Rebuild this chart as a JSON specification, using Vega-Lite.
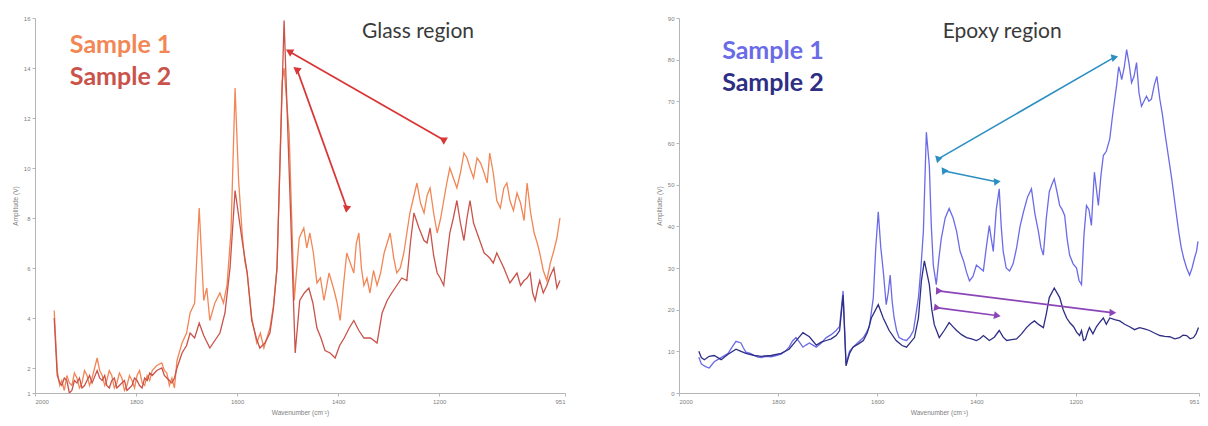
{
  "$schema": "https://vega.github.io/schema/vega-lite/v6.json",
  "padding": {"left": 12, "top": 15, "right": 2, "bottom": 2},
  "background": "white",
  "config": {
    "view": {"stroke": null},
    "axis": {"domainColor": "#b5b5b5", "tickColor": "#b5b5b5", "labelColor": "#808080", "labelFontSize": 6, "titleFontSize": 6.5, "titleColor": "#808080", "titleFontWeight": "normal", "grid": false, "tickSize": 3, "labelPadding": 2, "titlePadding": 5, "labelFont": "Liberation Sans", "titleFont": "Liberation Sans"}
  },
  "datasets": {
    "spectra": [
      {"panel":"glass","sample":"Sample 1","w":1962,"v":4.3},{"panel":"glass","sample":"Sample 1","w":1956,"v":1.9},{"panel":"glass","sample":"Sample 1","w":1951,"v":1.3},{"panel":"glass","sample":"Sample 1","w":1947,"v":1.5},{"panel":"glass","sample":"Sample 1","w":1942,"v":1.1},{"panel":"glass","sample":"Sample 1","w":1937,"v":1.7},{"panel":"glass","sample":"Sample 1","w":1932,"v":1.4},{"panel":"glass","sample":"Sample 1","w":1927,"v":1.3},{"panel":"glass","sample":"Sample 1","w":1922,"v":1.8},{"panel":"glass","sample":"Sample 1","w":1917,"v":1.6},{"panel":"glass","sample":"Sample 1","w":1912,"v":1.2},{"panel":"glass","sample":"Sample 1","w":1907,"v":1.4},{"panel":"glass","sample":"Sample 1","w":1902,"v":1.9},{"panel":"glass","sample":"Sample 1","w":1897,"v":1.7},{"panel":"glass","sample":"Sample 1","w":1892,"v":1.3},{"panel":"glass","sample":"Sample 1","w":1887,"v":1.6},{"panel":"glass","sample":"Sample 1","w":1877,"v":2.4},{"panel":"glass","sample":"Sample 1","w":1872,"v":1.9},{"panel":"glass","sample":"Sample 1","w":1867,"v":1.7},{"panel":"glass","sample":"Sample 1","w":1862,"v":1.3},{"panel":"glass","sample":"Sample 1","w":1858,"v":1.5},{"panel":"glass","sample":"Sample 1","w":1853,"v":1.9},{"panel":"glass","sample":"Sample 1","w":1848,"v":1.7},{"panel":"glass","sample":"Sample 1","w":1843,"v":1.2},{"panel":"glass","sample":"Sample 1","w":1838,"v":1.4},{"panel":"glass","sample":"Sample 1","w":1833,"v":1.8},{"panel":"glass","sample":"Sample 1","w":1828,"v":1.6},{"panel":"glass","sample":"Sample 1","w":1823,"v":1.1},{"panel":"glass","sample":"Sample 1","w":1818,"v":1.3},{"panel":"glass","sample":"Sample 1","w":1813,"v":1.7},{"panel":"glass","sample":"Sample 1","w":1808,"v":1.5},{"panel":"glass","sample":"Sample 1","w":1803,"v":1.2},{"panel":"glass","sample":"Sample 1","w":1798,"v":1.7},{"panel":"glass","sample":"Sample 1","w":1793,"v":1.9},{"panel":"glass","sample":"Sample 1","w":1788,"v":1.4},{"panel":"glass","sample":"Sample 1","w":1783,"v":1.3},{"panel":"glass","sample":"Sample 1","w":1778,"v":1.7},{"panel":"glass","sample":"Sample 1","w":1773,"v":1.5},{"panel":"glass","sample":"Sample 1","w":1768,"v":1.9},{"panel":"glass","sample":"Sample 1","w":1759,"v":2.1},{"panel":"glass","sample":"Sample 1","w":1749,"v":2.2},{"panel":"glass","sample":"Sample 1","w":1744,"v":1.9},{"panel":"glass","sample":"Sample 1","w":1739,"v":1.8},{"panel":"glass","sample":"Sample 1","w":1734,"v":1.3},{"panel":"glass","sample":"Sample 1","w":1729,"v":1.6},{"panel":"glass","sample":"Sample 1","w":1724,"v":1.2},{"panel":"glass","sample":"Sample 1","w":1719,"v":2.3},{"panel":"glass","sample":"Sample 1","w":1709,"v":3.0},{"panel":"glass","sample":"Sample 1","w":1700,"v":3.4},{"panel":"glass","sample":"Sample 1","w":1693,"v":4.2},{"panel":"glass","sample":"Sample 1","w":1684,"v":4.6},{"panel":"glass","sample":"Sample 1","w":1675,"v":8.4},{"panel":"glass","sample":"Sample 1","w":1666,"v":4.7},{"panel":"glass","sample":"Sample 1","w":1660,"v":5.2},{"panel":"glass","sample":"Sample 1","w":1654,"v":3.9},{"panel":"glass","sample":"Sample 1","w":1644,"v":4.6},{"panel":"glass","sample":"Sample 1","w":1634,"v":5.0},{"panel":"glass","sample":"Sample 1","w":1627,"v":4.6},{"panel":"glass","sample":"Sample 1","w":1620,"v":5.3},{"panel":"glass","sample":"Sample 1","w":1612,"v":7.5},{"panel":"glass","sample":"Sample 1","w":1604,"v":13.2},{"panel":"glass","sample":"Sample 1","w":1597,"v":9.5},{"panel":"glass","sample":"Sample 1","w":1590,"v":7.4},{"panel":"glass","sample":"Sample 1","w":1585,"v":6.3},{"panel":"glass","sample":"Sample 1","w":1580,"v":5.8},{"panel":"glass","sample":"Sample 1","w":1571,"v":4.0},{"panel":"glass","sample":"Sample 1","w":1561,"v":3.0},{"panel":"glass","sample":"Sample 1","w":1554,"v":3.4},{"panel":"glass","sample":"Sample 1","w":1547,"v":2.8},{"panel":"glass","sample":"Sample 1","w":1535,"v":3.6},{"panel":"glass","sample":"Sample 1","w":1528,"v":4.5},{"panel":"glass","sample":"Sample 1","w":1521,"v":6.0},{"panel":"glass","sample":"Sample 1","w":1511,"v":13.4},{"panel":"glass","sample":"Sample 1","w":1507,"v":14.0},{"panel":"glass","sample":"Sample 1","w":1497,"v":11.4},{"panel":"glass","sample":"Sample 1","w":1487,"v":4.7},{"panel":"glass","sample":"Sample 1","w":1477,"v":7.2},{"panel":"glass","sample":"Sample 1","w":1468,"v":7.6},{"panel":"glass","sample":"Sample 1","w":1462,"v":6.8},{"panel":"glass","sample":"Sample 1","w":1456,"v":7.4},{"panel":"glass","sample":"Sample 1","w":1449,"v":6.6},{"panel":"glass","sample":"Sample 1","w":1442,"v":5.4},{"panel":"glass","sample":"Sample 1","w":1435,"v":5.6},{"panel":"glass","sample":"Sample 1","w":1428,"v":4.7},{"panel":"glass","sample":"Sample 1","w":1418,"v":5.8},{"panel":"glass","sample":"Sample 1","w":1408,"v":5.1},{"panel":"glass","sample":"Sample 1","w":1402,"v":4.6},{"panel":"glass","sample":"Sample 1","w":1396,"v":3.9},{"panel":"glass","sample":"Sample 1","w":1390,"v":5.2},{"panel":"glass","sample":"Sample 1","w":1383,"v":6.6},{"panel":"glass","sample":"Sample 1","w":1376,"v":6.2},{"panel":"glass","sample":"Sample 1","w":1369,"v":5.8},{"panel":"glass","sample":"Sample 1","w":1364,"v":7.0},{"panel":"glass","sample":"Sample 1","w":1359,"v":7.4},{"panel":"glass","sample":"Sample 1","w":1354,"v":6.0},{"panel":"glass","sample":"Sample 1","w":1349,"v":5.3},{"panel":"glass","sample":"Sample 1","w":1343,"v":5.6},{"panel":"glass","sample":"Sample 1","w":1337,"v":5.0},{"panel":"glass","sample":"Sample 1","w":1330,"v":5.9},{"panel":"glass","sample":"Sample 1","w":1323,"v":5.3},{"panel":"glass","sample":"Sample 1","w":1316,"v":5.8},{"panel":"glass","sample":"Sample 1","w":1309,"v":6.6},{"panel":"glass","sample":"Sample 1","w":1303,"v":7.0},{"panel":"glass","sample":"Sample 1","w":1297,"v":7.4},{"panel":"glass","sample":"Sample 1","w":1290,"v":6.4},{"panel":"glass","sample":"Sample 1","w":1284,"v":5.8},{"panel":"glass","sample":"Sample 1","w":1277,"v":6.0},{"panel":"glass","sample":"Sample 1","w":1270,"v":6.6},{"panel":"glass","sample":"Sample 1","w":1264,"v":7.4},{"panel":"glass","sample":"Sample 1","w":1258,"v":8.2},{"panel":"glass","sample":"Sample 1","w":1251,"v":8.8},{"panel":"glass","sample":"Sample 1","w":1244,"v":9.4},{"panel":"glass","sample":"Sample 1","w":1237,"v":8.6},{"panel":"glass","sample":"Sample 1","w":1230,"v":8.2},{"panel":"glass","sample":"Sample 1","w":1224,"v":8.9},{"panel":"glass","sample":"Sample 1","w":1218,"v":9.2},{"panel":"glass","sample":"Sample 1","w":1211,"v":8.2},{"panel":"glass","sample":"Sample 1","w":1204,"v":7.4},{"panel":"glass","sample":"Sample 1","w":1197,"v":8.0},{"panel":"glass","sample":"Sample 1","w":1191,"v":8.7},{"panel":"glass","sample":"Sample 1","w":1185,"v":9.4},{"panel":"glass","sample":"Sample 1","w":1179,"v":10.0},{"panel":"glass","sample":"Sample 1","w":1172,"v":9.6},{"panel":"glass","sample":"Sample 1","w":1165,"v":9.2},{"panel":"glass","sample":"Sample 1","w":1158,"v":9.8},{"panel":"glass","sample":"Sample 1","w":1151,"v":10.6},{"panel":"glass","sample":"Sample 1","w":1145,"v":10.4},{"panel":"glass","sample":"Sample 1","w":1139,"v":10.0},{"panel":"glass","sample":"Sample 1","w":1132,"v":9.6},{"panel":"glass","sample":"Sample 1","w":1125,"v":10.4},{"panel":"glass","sample":"Sample 1","w":1118,"v":10.2},{"panel":"glass","sample":"Sample 1","w":1111,"v":9.8},{"panel":"glass","sample":"Sample 1","w":1105,"v":9.4},{"panel":"glass","sample":"Sample 1","w":1100,"v":10.6},{"panel":"glass","sample":"Sample 1","w":1093,"v":9.8},{"panel":"glass","sample":"Sample 1","w":1086,"v":8.7},{"panel":"glass","sample":"Sample 1","w":1079,"v":8.4},{"panel":"glass","sample":"Sample 1","w":1072,"v":9.2},{"panel":"glass","sample":"Sample 1","w":1066,"v":9.4},{"panel":"glass","sample":"Sample 1","w":1060,"v":8.7},{"panel":"glass","sample":"Sample 1","w":1053,"v":8.3},{"panel":"glass","sample":"Sample 1","w":1046,"v":9.0},{"panel":"glass","sample":"Sample 1","w":1039,"v":8.6},{"panel":"glass","sample":"Sample 1","w":1032,"v":7.9},{"panel":"glass","sample":"Sample 1","w":1026,"v":9.4},{"panel":"glass","sample":"Sample 1","w":1019,"v":8.2},{"panel":"glass","sample":"Sample 1","w":1012,"v":7.4},{"panel":"glass","sample":"Sample 1","w":1006,"v":7.0},{"panel":"glass","sample":"Sample 1","w":1001,"v":6.6},{"panel":"glass","sample":"Sample 1","w":994,"v":5.9},{"panel":"glass","sample":"Sample 1","w":987,"v":5.5},{"panel":"glass","sample":"Sample 1","w":980,"v":6.2},{"panel":"glass","sample":"Sample 1","w":973,"v":6.7},{"panel":"glass","sample":"Sample 1","w":967,"v":7.2},{"panel":"glass","sample":"Sample 1","w":961,"v":8.0},
      {"panel":"glass","sample":"Sample 2","w":1962,"v":4.0},{"panel":"glass","sample":"Sample 2","w":1956,"v":1.7},{"panel":"glass","sample":"Sample 2","w":1951,"v":1.4},{"panel":"glass","sample":"Sample 2","w":1947,"v":1.3},{"panel":"glass","sample":"Sample 2","w":1942,"v":1.6},{"panel":"glass","sample":"Sample 2","w":1937,"v":1.5},{"panel":"glass","sample":"Sample 2","w":1932,"v":1.0},{"panel":"glass","sample":"Sample 2","w":1927,"v":1.1},{"panel":"glass","sample":"Sample 2","w":1922,"v":1.5},{"panel":"glass","sample":"Sample 2","w":1917,"v":1.4},{"panel":"glass","sample":"Sample 2","w":1912,"v":1.6},{"panel":"glass","sample":"Sample 2","w":1907,"v":1.2},{"panel":"glass","sample":"Sample 2","w":1902,"v":1.3},{"panel":"glass","sample":"Sample 2","w":1897,"v":1.5},{"panel":"glass","sample":"Sample 2","w":1892,"v":1.7},{"panel":"glass","sample":"Sample 2","w":1887,"v":1.4},{"panel":"glass","sample":"Sample 2","w":1877,"v":1.9},{"panel":"glass","sample":"Sample 2","w":1872,"v":1.6},{"panel":"glass","sample":"Sample 2","w":1867,"v":1.5},{"panel":"glass","sample":"Sample 2","w":1862,"v":1.7},{"panel":"glass","sample":"Sample 2","w":1858,"v":1.3},{"panel":"glass","sample":"Sample 2","w":1853,"v":1.2},{"panel":"glass","sample":"Sample 2","w":1848,"v":1.5},{"panel":"glass","sample":"Sample 2","w":1843,"v":1.6},{"panel":"glass","sample":"Sample 2","w":1838,"v":1.2},{"panel":"glass","sample":"Sample 2","w":1833,"v":1.3},{"panel":"glass","sample":"Sample 2","w":1828,"v":1.4},{"panel":"glass","sample":"Sample 2","w":1823,"v":1.5},{"panel":"glass","sample":"Sample 2","w":1818,"v":1.1},{"panel":"glass","sample":"Sample 2","w":1813,"v":1.2},{"panel":"glass","sample":"Sample 2","w":1808,"v":1.3},{"panel":"glass","sample":"Sample 2","w":1803,"v":1.6},{"panel":"glass","sample":"Sample 2","w":1798,"v":1.5},{"panel":"glass","sample":"Sample 2","w":1793,"v":1.3},{"panel":"glass","sample":"Sample 2","w":1788,"v":1.2},{"panel":"glass","sample":"Sample 2","w":1783,"v":1.6},{"panel":"glass","sample":"Sample 2","w":1778,"v":1.5},{"panel":"glass","sample":"Sample 2","w":1773,"v":1.8},{"panel":"glass","sample":"Sample 2","w":1768,"v":1.7},{"panel":"glass","sample":"Sample 2","w":1759,"v":1.9},{"panel":"glass","sample":"Sample 2","w":1749,"v":2.0},{"panel":"glass","sample":"Sample 2","w":1744,"v":1.7},{"panel":"glass","sample":"Sample 2","w":1739,"v":1.6},{"panel":"glass","sample":"Sample 2","w":1734,"v":1.5},{"panel":"glass","sample":"Sample 2","w":1729,"v":1.4},{"panel":"glass","sample":"Sample 2","w":1724,"v":1.6},{"panel":"glass","sample":"Sample 2","w":1719,"v":2.0},{"panel":"glass","sample":"Sample 2","w":1709,"v":2.6},{"panel":"glass","sample":"Sample 2","w":1700,"v":2.9},{"panel":"glass","sample":"Sample 2","w":1693,"v":3.4},{"panel":"glass","sample":"Sample 2","w":1684,"v":3.2},{"panel":"glass","sample":"Sample 2","w":1675,"v":3.8},{"panel":"glass","sample":"Sample 2","w":1666,"v":3.3},{"panel":"glass","sample":"Sample 2","w":1654,"v":2.8},{"panel":"glass","sample":"Sample 2","w":1644,"v":3.1},{"panel":"glass","sample":"Sample 2","w":1634,"v":3.4},{"panel":"glass","sample":"Sample 2","w":1624,"v":4.2},{"panel":"glass","sample":"Sample 2","w":1614,"v":6.0},{"panel":"glass","sample":"Sample 2","w":1604,"v":9.1},{"panel":"glass","sample":"Sample 2","w":1590,"v":7.1},{"panel":"glass","sample":"Sample 2","w":1580,"v":5.8},{"panel":"glass","sample":"Sample 2","w":1571,"v":3.9},{"panel":"glass","sample":"Sample 2","w":1562,"v":3.2},{"panel":"glass","sample":"Sample 2","w":1555,"v":2.8},{"panel":"glass","sample":"Sample 2","w":1545,"v":3.0},{"panel":"glass","sample":"Sample 2","w":1535,"v":3.4},{"panel":"glass","sample":"Sample 2","w":1528,"v":4.4},{"panel":"glass","sample":"Sample 2","w":1521,"v":6.0},{"panel":"glass","sample":"Sample 2","w":1507,"v":15.9},{"panel":"glass","sample":"Sample 2","w":1495,"v":8.7},{"panel":"glass","sample":"Sample 2","w":1485,"v":2.6},{"panel":"glass","sample":"Sample 2","w":1476,"v":4.7},{"panel":"glass","sample":"Sample 2","w":1467,"v":5.0},{"panel":"glass","sample":"Sample 2","w":1458,"v":5.2},{"panel":"glass","sample":"Sample 2","w":1450,"v":4.6},{"panel":"glass","sample":"Sample 2","w":1442,"v":3.6},{"panel":"glass","sample":"Sample 2","w":1434,"v":3.2},{"panel":"glass","sample":"Sample 2","w":1426,"v":2.7},{"panel":"glass","sample":"Sample 2","w":1416,"v":2.6},{"panel":"glass","sample":"Sample 2","w":1406,"v":2.4},{"panel":"glass","sample":"Sample 2","w":1397,"v":2.9},{"panel":"glass","sample":"Sample 2","w":1388,"v":3.2},{"panel":"glass","sample":"Sample 2","w":1378,"v":3.6},{"panel":"glass","sample":"Sample 2","w":1369,"v":3.9},{"panel":"glass","sample":"Sample 2","w":1359,"v":3.5},{"panel":"glass","sample":"Sample 2","w":1349,"v":3.2},{"panel":"glass","sample":"Sample 2","w":1336,"v":3.2},{"panel":"glass","sample":"Sample 2","w":1323,"v":3.0},{"panel":"glass","sample":"Sample 2","w":1313,"v":4.2},{"panel":"glass","sample":"Sample 2","w":1303,"v":4.7},{"panel":"glass","sample":"Sample 2","w":1294,"v":5.0},{"panel":"glass","sample":"Sample 2","w":1284,"v":5.3},{"panel":"glass","sample":"Sample 2","w":1274,"v":5.6},{"panel":"glass","sample":"Sample 2","w":1264,"v":5.5},{"panel":"glass","sample":"Sample 2","w":1257,"v":7.0},{"panel":"glass","sample":"Sample 2","w":1250,"v":8.2},{"panel":"glass","sample":"Sample 2","w":1240,"v":7.6},{"panel":"glass","sample":"Sample 2","w":1230,"v":7.1},{"panel":"glass","sample":"Sample 2","w":1224,"v":7.0},{"panel":"glass","sample":"Sample 2","w":1218,"v":7.6},{"panel":"glass","sample":"Sample 2","w":1211,"v":6.5},{"panel":"glass","sample":"Sample 2","w":1204,"v":5.8},{"panel":"glass","sample":"Sample 2","w":1198,"v":5.6},{"panel":"glass","sample":"Sample 2","w":1191,"v":5.3},{"panel":"glass","sample":"Sample 2","w":1185,"v":6.4},{"panel":"glass","sample":"Sample 2","w":1179,"v":7.4},{"panel":"glass","sample":"Sample 2","w":1172,"v":8.0},{"panel":"glass","sample":"Sample 2","w":1165,"v":8.7},{"panel":"glass","sample":"Sample 2","w":1158,"v":7.8},{"panel":"glass","sample":"Sample 2","w":1151,"v":7.1},{"panel":"glass","sample":"Sample 2","w":1145,"v":8.0},{"panel":"glass","sample":"Sample 2","w":1139,"v":8.7},{"panel":"glass","sample":"Sample 2","w":1132,"v":7.8},{"panel":"glass","sample":"Sample 2","w":1125,"v":7.4},{"panel":"glass","sample":"Sample 2","w":1118,"v":7.0},{"panel":"glass","sample":"Sample 2","w":1111,"v":6.6},{"panel":"glass","sample":"Sample 2","w":1105,"v":6.5},{"panel":"glass","sample":"Sample 2","w":1100,"v":6.4},{"panel":"glass","sample":"Sample 2","w":1093,"v":6.2},{"panel":"glass","sample":"Sample 2","w":1086,"v":6.6},{"panel":"glass","sample":"Sample 2","w":1079,"v":6.3},{"panel":"glass","sample":"Sample 2","w":1072,"v":6.0},{"panel":"glass","sample":"Sample 2","w":1066,"v":5.7},{"panel":"glass","sample":"Sample 2","w":1060,"v":5.4},{"panel":"glass","sample":"Sample 2","w":1053,"v":5.6},{"panel":"glass","sample":"Sample 2","w":1046,"v":5.8},{"panel":"glass","sample":"Sample 2","w":1039,"v":5.3},{"panel":"glass","sample":"Sample 2","w":1032,"v":5.5},{"panel":"glass","sample":"Sample 2","w":1026,"v":5.6},{"panel":"glass","sample":"Sample 2","w":1020,"v":5.8},{"panel":"glass","sample":"Sample 2","w":1015,"v":5.0},{"panel":"glass","sample":"Sample 2","w":1010,"v":4.7},{"panel":"glass","sample":"Sample 2","w":1005,"v":5.2},{"panel":"glass","sample":"Sample 2","w":1001,"v":5.5},{"panel":"glass","sample":"Sample 2","w":994,"v":5.0},{"panel":"glass","sample":"Sample 2","w":987,"v":5.3},{"panel":"glass","sample":"Sample 2","w":980,"v":5.7},{"panel":"glass","sample":"Sample 2","w":973,"v":6.0},{"panel":"glass","sample":"Sample 2","w":967,"v":5.2},{"panel":"glass","sample":"Sample 2","w":961,"v":5.5},
      {"panel":"epoxy","sample":"Sample 1","w":1960,"v":8.6},{"panel":"epoxy","sample":"Sample 1","w":1955,"v":7.0},{"panel":"epoxy","sample":"Sample 1","w":1949,"v":6.5},{"panel":"epoxy","sample":"Sample 1","w":1944,"v":6.2},{"panel":"epoxy","sample":"Sample 1","w":1939,"v":6.0},{"panel":"epoxy","sample":"Sample 1","w":1929,"v":7.5},{"panel":"epoxy","sample":"Sample 1","w":1922,"v":8.0},{"panel":"epoxy","sample":"Sample 1","w":1915,"v":8.5},{"panel":"epoxy","sample":"Sample 1","w":1901,"v":9.5},{"panel":"epoxy","sample":"Sample 1","w":1893,"v":11.0},{"panel":"epoxy","sample":"Sample 1","w":1885,"v":12.4},{"panel":"epoxy","sample":"Sample 1","w":1875,"v":12.0},{"panel":"epoxy","sample":"Sample 1","w":1870,"v":10.8},{"panel":"epoxy","sample":"Sample 1","w":1865,"v":9.8},{"panel":"epoxy","sample":"Sample 1","w":1856,"v":9.5},{"panel":"epoxy","sample":"Sample 1","w":1848,"v":9.0},{"panel":"epoxy","sample":"Sample 1","w":1841,"v":8.6},{"panel":"epoxy","sample":"Sample 1","w":1834,"v":8.5},{"panel":"epoxy","sample":"Sample 1","w":1824,"v":8.8},{"panel":"epoxy","sample":"Sample 1","w":1814,"v":8.7},{"panel":"epoxy","sample":"Sample 1","w":1804,"v":9.0},{"panel":"epoxy","sample":"Sample 1","w":1794,"v":9.3},{"panel":"epoxy","sample":"Sample 1","w":1786,"v":10.0},{"panel":"epoxy","sample":"Sample 1","w":1778,"v":11.0},{"panel":"epoxy","sample":"Sample 1","w":1771,"v":12.5},{"panel":"epoxy","sample":"Sample 1","w":1764,"v":13.3},{"panel":"epoxy","sample":"Sample 1","w":1757,"v":12.2},{"panel":"epoxy","sample":"Sample 1","w":1750,"v":11.0},{"panel":"epoxy","sample":"Sample 1","w":1744,"v":11.5},{"panel":"epoxy","sample":"Sample 1","w":1737,"v":12.0},{"panel":"epoxy","sample":"Sample 1","w":1730,"v":11.5},{"panel":"epoxy","sample":"Sample 1","w":1723,"v":11.0},{"panel":"epoxy","sample":"Sample 1","w":1713,"v":12.0},{"panel":"epoxy","sample":"Sample 1","w":1703,"v":13.3},{"panel":"epoxy","sample":"Sample 1","w":1693,"v":14.0},{"panel":"epoxy","sample":"Sample 1","w":1683,"v":15.0},{"panel":"epoxy","sample":"Sample 1","w":1676,"v":16.0},{"panel":"epoxy","sample":"Sample 1","w":1669,"v":24.5},{"panel":"epoxy","sample":"Sample 1","w":1663,"v":7.0},{"panel":"epoxy","sample":"Sample 1","w":1656,"v":10.0},{"panel":"epoxy","sample":"Sample 1","w":1649,"v":11.0},{"panel":"epoxy","sample":"Sample 1","w":1640,"v":12.0},{"panel":"epoxy","sample":"Sample 1","w":1628,"v":13.3},{"panel":"epoxy","sample":"Sample 1","w":1622,"v":14.5},{"panel":"epoxy","sample":"Sample 1","w":1616,"v":15.9},{"panel":"epoxy","sample":"Sample 1","w":1608,"v":22.9},{"panel":"epoxy","sample":"Sample 1","w":1603,"v":35.0},{"panel":"epoxy","sample":"Sample 1","w":1598,"v":43.5},{"panel":"epoxy","sample":"Sample 1","w":1593,"v":35.0},{"panel":"epoxy","sample":"Sample 1","w":1588,"v":29.3},{"panel":"epoxy","sample":"Sample 1","w":1582,"v":21.2},{"panel":"epoxy","sample":"Sample 1","w":1578,"v":24.0},{"panel":"epoxy","sample":"Sample 1","w":1574,"v":28.3},{"panel":"epoxy","sample":"Sample 1","w":1570,"v":22.0},{"panel":"epoxy","sample":"Sample 1","w":1566,"v":18.0},{"panel":"epoxy","sample":"Sample 1","w":1561,"v":15.0},{"panel":"epoxy","sample":"Sample 1","w":1556,"v":13.3},{"panel":"epoxy","sample":"Sample 1","w":1548,"v":12.8},{"panel":"epoxy","sample":"Sample 1","w":1541,"v":12.6},{"panel":"epoxy","sample":"Sample 1","w":1534,"v":13.5},{"panel":"epoxy","sample":"Sample 1","w":1527,"v":15.0},{"panel":"epoxy","sample":"Sample 1","w":1517,"v":22.9},{"panel":"epoxy","sample":"Sample 1","w":1512,"v":30.0},{"panel":"epoxy","sample":"Sample 1","w":1507,"v":38.8},{"panel":"epoxy","sample":"Sample 1","w":1501,"v":62.6},{"panel":"epoxy","sample":"Sample 1","w":1495,"v":54.5},{"panel":"epoxy","sample":"Sample 1","w":1491,"v":40.0},{"panel":"epoxy","sample":"Sample 1","w":1487,"v":30.7},{"panel":"epoxy","sample":"Sample 1","w":1481,"v":26.0},{"panel":"epoxy","sample":"Sample 1","w":1476,"v":32.0},{"panel":"epoxy","sample":"Sample 1","w":1471,"v":37.0},{"panel":"epoxy","sample":"Sample 1","w":1463,"v":42.0},{"panel":"epoxy","sample":"Sample 1","w":1455,"v":44.3},{"panel":"epoxy","sample":"Sample 1","w":1447,"v":42.0},{"panel":"epoxy","sample":"Sample 1","w":1440,"v":38.8},{"panel":"epoxy","sample":"Sample 1","w":1433,"v":34.0},{"panel":"epoxy","sample":"Sample 1","w":1426,"v":31.7},{"panel":"epoxy","sample":"Sample 1","w":1420,"v":29.0},{"panel":"epoxy","sample":"Sample 1","w":1414,"v":26.9},{"panel":"epoxy","sample":"Sample 1","w":1407,"v":28.0},{"panel":"epoxy","sample":"Sample 1","w":1400,"v":30.7},{"panel":"epoxy","sample":"Sample 1","w":1393,"v":30.0},{"panel":"epoxy","sample":"Sample 1","w":1386,"v":29.3},{"panel":"epoxy","sample":"Sample 1","w":1380,"v":35.0},{"panel":"epoxy","sample":"Sample 1","w":1374,"v":40.2},{"panel":"epoxy","sample":"Sample 1","w":1370,"v":37.0},{"panel":"epoxy","sample":"Sample 1","w":1366,"v":34.0},{"panel":"epoxy","sample":"Sample 1","w":1360,"v":44.0},{"panel":"epoxy","sample":"Sample 1","w":1354,"v":49.0},{"panel":"epoxy","sample":"Sample 1","w":1350,"v":40.0},{"panel":"epoxy","sample":"Sample 1","w":1346,"v":34.0},{"panel":"epoxy","sample":"Sample 1","w":1340,"v":30.0},{"panel":"epoxy","sample":"Sample 1","w":1333,"v":29.3},{"panel":"epoxy","sample":"Sample 1","w":1326,"v":31.0},{"panel":"epoxy","sample":"Sample 1","w":1319,"v":34.8},{"panel":"epoxy","sample":"Sample 1","w":1312,"v":40.0},{"panel":"epoxy","sample":"Sample 1","w":1305,"v":43.5},{"panel":"epoxy","sample":"Sample 1","w":1297,"v":47.0},{"panel":"epoxy","sample":"Sample 1","w":1289,"v":49.0},{"panel":"epoxy","sample":"Sample 1","w":1282,"v":43.0},{"panel":"epoxy","sample":"Sample 1","w":1275,"v":38.8},{"panel":"epoxy","sample":"Sample 1","w":1270,"v":35.0},{"panel":"epoxy","sample":"Sample 1","w":1265,"v":33.1},{"panel":"epoxy","sample":"Sample 1","w":1259,"v":42.0},{"panel":"epoxy","sample":"Sample 1","w":1253,"v":48.3},{"panel":"epoxy","sample":"Sample 1","w":1248,"v":50.0},{"panel":"epoxy","sample":"Sample 1","w":1243,"v":51.4},{"panel":"epoxy","sample":"Sample 1","w":1237,"v":48.0},{"panel":"epoxy","sample":"Sample 1","w":1232,"v":45.0},{"panel":"epoxy","sample":"Sample 1","w":1227,"v":44.0},{"panel":"epoxy","sample":"Sample 1","w":1222,"v":42.6},{"panel":"epoxy","sample":"Sample 1","w":1217,"v":37.0},{"panel":"epoxy","sample":"Sample 1","w":1212,"v":33.1},{"panel":"epoxy","sample":"Sample 1","w":1205,"v":31.0},{"panel":"epoxy","sample":"Sample 1","w":1198,"v":30.0},{"panel":"epoxy","sample":"Sample 1","w":1193,"v":27.0},{"panel":"epoxy","sample":"Sample 1","w":1188,"v":26.0},{"panel":"epoxy","sample":"Sample 1","w":1183,"v":38.0},{"panel":"epoxy","sample":"Sample 1","w":1178,"v":45.0},{"panel":"epoxy","sample":"Sample 1","w":1173,"v":44.0},{"panel":"epoxy","sample":"Sample 1","w":1168,"v":40.2},{"panel":"epoxy","sample":"Sample 1","w":1165,"v":47.0},{"panel":"epoxy","sample":"Sample 1","w":1162,"v":53.0},{"panel":"epoxy","sample":"Sample 1","w":1158,"v":49.0},{"panel":"epoxy","sample":"Sample 1","w":1154,"v":45.0},{"panel":"epoxy","sample":"Sample 1","w":1149,"v":52.0},{"panel":"epoxy","sample":"Sample 1","w":1144,"v":57.0},{"panel":"epoxy","sample":"Sample 1","w":1138,"v":58.0},{"panel":"epoxy","sample":"Sample 1","w":1131,"v":61.0},{"panel":"epoxy","sample":"Sample 1","w":1126,"v":66.0},{"panel":"epoxy","sample":"Sample 1","w":1121,"v":70.5},{"panel":"epoxy","sample":"Sample 1","w":1117,"v":74.0},{"panel":"epoxy","sample":"Sample 1","w":1113,"v":78.3},{"panel":"epoxy","sample":"Sample 1","w":1110,"v":77.0},{"panel":"epoxy","sample":"Sample 1","w":1107,"v":75.2},{"panel":"epoxy","sample":"Sample 1","w":1102,"v":78.0},{"panel":"epoxy","sample":"Sample 1","w":1097,"v":82.4},{"panel":"epoxy","sample":"Sample 1","w":1092,"v":79.0},{"panel":"epoxy","sample":"Sample 1","w":1087,"v":74.5},{"panel":"epoxy","sample":"Sample 1","w":1082,"v":76.0},{"panel":"epoxy","sample":"Sample 1","w":1077,"v":79.3},{"panel":"epoxy","sample":"Sample 1","w":1072,"v":72.0},{"panel":"epoxy","sample":"Sample 1","w":1067,"v":68.8},{"panel":"epoxy","sample":"Sample 1","w":1062,"v":70.0},{"panel":"epoxy","sample":"Sample 1","w":1057,"v":71.2},{"panel":"epoxy","sample":"Sample 1","w":1052,"v":70.0},{"panel":"epoxy","sample":"Sample 1","w":1047,"v":70.5},{"panel":"epoxy","sample":"Sample 1","w":1041,"v":74.0},{"panel":"epoxy","sample":"Sample 1","w":1036,"v":76.0},{"panel":"epoxy","sample":"Sample 1","w":1030,"v":70.5},{"panel":"epoxy","sample":"Sample 1","w":1025,"v":67.0},{"panel":"epoxy","sample":"Sample 1","w":1020,"v":62.6},{"panel":"epoxy","sample":"Sample 1","w":1013,"v":57.0},{"panel":"epoxy","sample":"Sample 1","w":1006,"v":51.4},{"panel":"epoxy","sample":"Sample 1","w":999,"v":45.0},{"panel":"epoxy","sample":"Sample 1","w":992,"v":38.8},{"panel":"epoxy","sample":"Sample 1","w":987,"v":35.0},{"panel":"epoxy","sample":"Sample 1","w":982,"v":32.4},{"panel":"epoxy","sample":"Sample 1","w":976,"v":30.0},{"panel":"epoxy","sample":"Sample 1","w":970,"v":28.3},{"panel":"epoxy","sample":"Sample 1","w":965,"v":30.0},{"panel":"epoxy","sample":"Sample 1","w":960,"v":32.4},{"panel":"epoxy","sample":"Sample 1","w":956,"v":34.0},{"panel":"epoxy","sample":"Sample 1","w":953,"v":36.4},
      {"panel":"epoxy","sample":"Sample 2","w":1960,"v":10.0},{"panel":"epoxy","sample":"Sample 2","w":1955,"v":8.5},{"panel":"epoxy","sample":"Sample 2","w":1949,"v":8.0},{"panel":"epoxy","sample":"Sample 2","w":1939,"v":8.8},{"panel":"epoxy","sample":"Sample 2","w":1929,"v":9.0},{"panel":"epoxy","sample":"Sample 2","w":1915,"v":8.0},{"panel":"epoxy","sample":"Sample 2","w":1901,"v":9.3},{"panel":"epoxy","sample":"Sample 2","w":1885,"v":10.5},{"panel":"epoxy","sample":"Sample 2","w":1875,"v":10.0},{"panel":"epoxy","sample":"Sample 2","w":1865,"v":9.5},{"panel":"epoxy","sample":"Sample 2","w":1848,"v":9.0},{"panel":"epoxy","sample":"Sample 2","w":1834,"v":8.8},{"panel":"epoxy","sample":"Sample 2","w":1814,"v":9.0},{"panel":"epoxy","sample":"Sample 2","w":1794,"v":9.5},{"panel":"epoxy","sample":"Sample 2","w":1778,"v":10.5},{"panel":"epoxy","sample":"Sample 2","w":1764,"v":12.5},{"panel":"epoxy","sample":"Sample 2","w":1750,"v":14.5},{"panel":"epoxy","sample":"Sample 2","w":1737,"v":13.5},{"panel":"epoxy","sample":"Sample 2","w":1723,"v":11.5},{"panel":"epoxy","sample":"Sample 2","w":1713,"v":12.2},{"panel":"epoxy","sample":"Sample 2","w":1703,"v":12.6},{"panel":"epoxy","sample":"Sample 2","w":1693,"v":13.0},{"panel":"epoxy","sample":"Sample 2","w":1683,"v":13.8},{"panel":"epoxy","sample":"Sample 2","w":1676,"v":15.0},{"panel":"epoxy","sample":"Sample 2","w":1669,"v":23.5},{"panel":"epoxy","sample":"Sample 2","w":1663,"v":6.5},{"panel":"epoxy","sample":"Sample 2","w":1656,"v":9.5},{"panel":"epoxy","sample":"Sample 2","w":1649,"v":11.0},{"panel":"epoxy","sample":"Sample 2","w":1638,"v":11.8},{"panel":"epoxy","sample":"Sample 2","w":1628,"v":12.6},{"panel":"epoxy","sample":"Sample 2","w":1620,"v":14.5},{"panel":"epoxy","sample":"Sample 2","w":1612,"v":18.0},{"panel":"epoxy","sample":"Sample 2","w":1598,"v":21.2},{"panel":"epoxy","sample":"Sample 2","w":1588,"v":18.0},{"panel":"epoxy","sample":"Sample 2","w":1576,"v":15.0},{"panel":"epoxy","sample":"Sample 2","w":1562,"v":12.6},{"panel":"epoxy","sample":"Sample 2","w":1550,"v":11.4},{"panel":"epoxy","sample":"Sample 2","w":1541,"v":11.0},{"panel":"epoxy","sample":"Sample 2","w":1525,"v":13.3},{"panel":"epoxy","sample":"Sample 2","w":1517,"v":18.0},{"panel":"epoxy","sample":"Sample 2","w":1511,"v":26.9},{"panel":"epoxy","sample":"Sample 2","w":1505,"v":31.7},{"panel":"epoxy","sample":"Sample 2","w":1495,"v":26.0},{"panel":"epoxy","sample":"Sample 2","w":1490,"v":20.0},{"panel":"epoxy","sample":"Sample 2","w":1485,"v":16.4},{"panel":"epoxy","sample":"Sample 2","w":1475,"v":13.3},{"panel":"epoxy","sample":"Sample 2","w":1465,"v":15.0},{"panel":"epoxy","sample":"Sample 2","w":1455,"v":16.9},{"panel":"epoxy","sample":"Sample 2","w":1448,"v":16.0},{"panel":"epoxy","sample":"Sample 2","w":1440,"v":15.0},{"panel":"epoxy","sample":"Sample 2","w":1430,"v":14.0},{"panel":"epoxy","sample":"Sample 2","w":1420,"v":13.3},{"panel":"epoxy","sample":"Sample 2","w":1410,"v":13.0},{"panel":"epoxy","sample":"Sample 2","w":1400,"v":12.6},{"panel":"epoxy","sample":"Sample 2","w":1393,"v":13.0},{"panel":"epoxy","sample":"Sample 2","w":1386,"v":13.8},{"panel":"epoxy","sample":"Sample 2","w":1380,"v":13.2},{"panel":"epoxy","sample":"Sample 2","w":1374,"v":12.6},{"panel":"epoxy","sample":"Sample 2","w":1364,"v":13.4},{"panel":"epoxy","sample":"Sample 2","w":1354,"v":15.0},{"panel":"epoxy","sample":"Sample 2","w":1346,"v":13.4},{"panel":"epoxy","sample":"Sample 2","w":1339,"v":12.6},{"panel":"epoxy","sample":"Sample 2","w":1329,"v":12.8},{"panel":"epoxy","sample":"Sample 2","w":1319,"v":13.0},{"panel":"epoxy","sample":"Sample 2","w":1309,"v":14.2},{"panel":"epoxy","sample":"Sample 2","w":1299,"v":15.7},{"panel":"epoxy","sample":"Sample 2","w":1291,"v":16.6},{"panel":"epoxy","sample":"Sample 2","w":1283,"v":17.3},{"panel":"epoxy","sample":"Sample 2","w":1274,"v":16.4},{"panel":"epoxy","sample":"Sample 2","w":1265,"v":15.7},{"panel":"epoxy","sample":"Sample 2","w":1259,"v":19.0},{"panel":"epoxy","sample":"Sample 2","w":1253,"v":22.9},{"panel":"epoxy","sample":"Sample 2","w":1243,"v":25.2},{"panel":"epoxy","sample":"Sample 2","w":1232,"v":22.9},{"panel":"epoxy","sample":"Sample 2","w":1225,"v":20.0},{"panel":"epoxy","sample":"Sample 2","w":1218,"v":18.0},{"panel":"epoxy","sample":"Sample 2","w":1211,"v":16.8},{"panel":"epoxy","sample":"Sample 2","w":1204,"v":15.9},{"panel":"epoxy","sample":"Sample 2","w":1198,"v":14.6},{"panel":"epoxy","sample":"Sample 2","w":1192,"v":13.8},{"panel":"epoxy","sample":"Sample 2","w":1188,"v":15.0},{"panel":"epoxy","sample":"Sample 2","w":1184,"v":12.6},{"panel":"epoxy","sample":"Sample 2","w":1180,"v":12.9},{"panel":"epoxy","sample":"Sample 2","w":1176,"v":14.5},{"panel":"epoxy","sample":"Sample 2","w":1172,"v":15.7},{"panel":"epoxy","sample":"Sample 2","w":1165,"v":14.2},{"panel":"epoxy","sample":"Sample 2","w":1158,"v":15.9},{"panel":"epoxy","sample":"Sample 2","w":1151,"v":17.0},{"panel":"epoxy","sample":"Sample 2","w":1144,"v":18.0},{"panel":"epoxy","sample":"Sample 2","w":1138,"v":16.5},{"panel":"epoxy","sample":"Sample 2","w":1131,"v":18.0},{"panel":"epoxy","sample":"Sample 2","w":1121,"v":17.6},{"panel":"epoxy","sample":"Sample 2","w":1111,"v":17.3},{"panel":"epoxy","sample":"Sample 2","w":1101,"v":16.5},{"panel":"epoxy","sample":"Sample 2","w":1091,"v":15.9},{"panel":"epoxy","sample":"Sample 2","w":1081,"v":15.2},{"panel":"epoxy","sample":"Sample 2","w":1071,"v":15.7},{"panel":"epoxy","sample":"Sample 2","w":1061,"v":15.4},{"panel":"epoxy","sample":"Sample 2","w":1051,"v":15.0},{"panel":"epoxy","sample":"Sample 2","w":1041,"v":14.4},{"panel":"epoxy","sample":"Sample 2","w":1030,"v":13.8},{"panel":"epoxy","sample":"Sample 2","w":1020,"v":13.6},{"panel":"epoxy","sample":"Sample 2","w":1010,"v":13.5},{"panel":"epoxy","sample":"Sample 2","w":1000,"v":13.0},{"panel":"epoxy","sample":"Sample 2","w":990,"v":13.3},{"panel":"epoxy","sample":"Sample 2","w":983,"v":13.9},{"panel":"epoxy","sample":"Sample 2","w":976,"v":13.8},{"panel":"epoxy","sample":"Sample 2","w":969,"v":13.0},{"panel":"epoxy","sample":"Sample 2","w":962,"v":13.3},{"panel":"epoxy","sample":"Sample 2","w":957,"v":14.2},{"panel":"epoxy","sample":"Sample 2","w":952,"v":15.7}
    ],
    "labels": [
      {"panel":"glass","kind":"sample","sample":"Sample 1","text":"Sample 1","w":1931,"v":14.6},
      {"panel":"glass","kind":"sample","sample":"Sample 2","text":"Sample 2","w":1931,"v":13.32},
      {"panel":"glass","kind":"title","text":"Glass region","w":1242,"v":15.2},
      {"panel":"epoxy","kind":"sample","sample":"Sample 1","text":"Sample 1","w":1913,"v":80.2},
      {"panel":"epoxy","kind":"sample","sample":"Sample 2","text":"Sample 2","w":1913,"v":72.4},
      {"panel":"epoxy","kind":"title","text":"Epoxy region","w":1348,"v":85.2}
    ],
    "arrows": [
      {"panel":"glass","id":"a1","w1":1495,"v1":14.64,"w2":1191,"v2":11.12},
      {"panel":"glass","id":"a2","w1":1481,"v1":13.92,"w2":1383,"v2":8.4},
      {"panel":"epoxy","id":"b1","w1":1477,"v1":56.2,"w2":1123,"v2":80.5},
      {"panel":"epoxy","id":"b2","w1":1465,"v1":53.3,"w2":1360,"v2":50.7},
      {"panel":"epoxy","id":"b3","w1":1477,"v1":24.5,"w2":1127,"v2":19.3},
      {"panel":"epoxy","id":"b4","w1":1481,"v1":20.5,"w2":1360,"v2":18.6}
    ]
  },
  "resolve": {"scale": {"color": "independent"}},
  "spacing": 90,
  "hconcat": [
    {
      "width": 530,
      "height": 375,
      "layer": [
        {
          "data": {"name": "spectra"},
          "transform": [{"filter": "datum.panel === 'glass'"}],
          "mark": {"type": "line", "strokeWidth": 1.3, "clip": true},
          "encoding": {
            "x": {"field": "w", "type": "quantitative", "scale": {"domain": [951, 2000], "reverse": true, "nice": false, "zero": false}, "axis": {"values": [2000, 1800, 1600, 1400, 1200, 951], "format": "d"}, "title": "Wavenumber (cm⁻¹)"},
            "y": {"field": "v", "type": "quantitative", "scale": {"domain": [1, 16], "nice": false, "zero": false}, "axis": {"values": [1, 2, 4, 6, 8, 10, 12, 14, 16], "format": "d"}, "title": "Amplitude (V)"},
            "color": {"field": "sample", "type": "nominal", "scale": {"domain": ["Sample 1", "Sample 2"], "range": ["#f28655", "#c9534a"]}, "legend": null},
            "order": {"field": "w", "sort": "descending"}
          }
        },
        {
          "data": {"name": "arrows"},
          "transform": [{"filter": "datum.panel === 'glass'"}],
          "mark": {"type": "rule", "color": "#d93636", "strokeWidth": 1.8},
          "encoding": {
            "x": {"field": "w1", "type": "quantitative", "title": "Wavenumber (cm⁻¹)"},
            "y": {"field": "v1", "type": "quantitative", "title": "Amplitude (V)"},
            "x2": {"field": "w2"},
            "y2": {"field": "v2"}
          }
        },
        {
          "data": {"name": "arrows"},
          "transform": [{"filter": "datum.panel === 'glass'"}],
          "mark": {"type": "point", "shape": "triangle", "filled": true, "color": "#d93636", "size": 70, "opacity": 1},
          "encoding": {
            "x": {"field": "w1", "type": "quantitative", "title": "Wavenumber (cm⁻¹)"},
            "y": {"field": "v1", "type": "quantitative", "title": "Amplitude (V)"},
            "angle": {"field": "id", "type": "nominal", "scale": {"domain": ["a1", "a2"], "range": [299.7, 340.1]}, "legend": null}
          }
        },
        {
          "data": {"name": "arrows"},
          "transform": [{"filter": "datum.panel === 'glass'"}],
          "mark": {"type": "point", "shape": "triangle", "filled": true, "color": "#d93636", "size": 70, "opacity": 1},
          "encoding": {
            "x": {"field": "w2", "type": "quantitative", "title": "Wavenumber (cm⁻¹)"},
            "y": {"field": "v2", "type": "quantitative", "title": "Amplitude (V)"},
            "angle": {"field": "id", "type": "nominal", "scale": {"domain": ["a1", "a2"], "range": [119.7, 160.1]}, "legend": null}
          }
        },
        {
          "data": {"name": "labels"},
          "transform": [{"filter": "datum.panel === 'glass' && datum.kind === 'sample'"}],
          "mark": {"type": "text", "font": "Lato", "fontWeight": "bold", "fontSize": 25, "align": "left", "baseline": "alphabetic"},
          "encoding": {
            "x": {"field": "w", "type": "quantitative", "title": "Wavenumber (cm⁻¹)"},
            "y": {"field": "v", "type": "quantitative", "title": "Amplitude (V)"},
            "text": {"field": "text"},
            "color": {"field": "sample", "type": "nominal", "legend": null}
          }
        },
        {
          "data": {"name": "labels"},
          "transform": [{"filter": "datum.panel === 'glass' && datum.kind === 'title'"}],
          "mark": {"type": "text", "font": "Lato", "fontSize": 21, "align": "center", "baseline": "alphabetic", "color": "#3a3a3a"},
          "encoding": {
            "x": {"field": "w", "type": "quantitative", "title": "Wavenumber (cm⁻¹)"},
            "y": {"field": "v", "type": "quantitative", "title": "Amplitude (V)"},
            "text": {"field": "text"}
          }
        }
      ]
    },
    {
      "width": 520,
      "height": 375,
      "layer": [
        {
          "data": {"name": "spectra"},
          "transform": [{"filter": "datum.panel === 'epoxy'"}],
          "mark": {"type": "line", "strokeWidth": 1.3, "clip": true},
          "encoding": {
            "x": {"field": "w", "type": "quantitative", "scale": {"domain": [951, 2000], "reverse": true, "nice": false, "zero": false}, "axis": {"values": [2000, 1800, 1600, 1400, 1200, 951], "format": "d"}, "title": "Wavenumber (cm⁻¹)"},
            "y": {"field": "v", "type": "quantitative", "scale": {"domain": [0, 90], "nice": false}, "axis": {"values": [0, 10, 20, 30, 40, 50, 60, 70, 80, 90], "format": "d"}, "title": "Amplitude (V)"},
            "color": {"field": "sample", "type": "nominal", "scale": {"domain": ["Sample 1", "Sample 2"], "range": ["#6b6be8", "#2e2e85"]}, "legend": null},
            "order": {"field": "w", "sort": "descending"}
          }
        },
        {
          "data": {"name": "arrows"},
          "transform": [{"filter": "datum.panel === 'epoxy'"}],
          "mark": {"type": "rule", "strokeWidth": 1.6},
          "encoding": {
            "x": {"field": "w1", "type": "quantitative", "title": "Wavenumber (cm⁻¹)"},
            "y": {"field": "v1", "type": "quantitative", "title": "Amplitude (V)"},
            "x2": {"field": "w2"},
            "y2": {"field": "v2"},
            "stroke": {"field": "id", "type": "nominal", "scale": {"domain": ["b1", "b2", "b3", "b4"], "range": ["#2b8fc2", "#2b8fc2", "#8b45b8", "#8b45b8"]}, "legend": null}
          }
        },
        {
          "data": {"name": "arrows"},
          "transform": [{"filter": "datum.panel === 'epoxy'"}],
          "mark": {"type": "point", "shape": "triangle", "filled": true, "size": 60, "opacity": 1},
          "encoding": {
            "x": {"field": "w1", "type": "quantitative", "title": "Wavenumber (cm⁻¹)"},
            "y": {"field": "v1", "type": "quantitative", "title": "Amplitude (V)"},
            "fill": {"field": "id", "type": "nominal", "scale": {"domain": ["b1", "b2", "b3", "b4"], "range": ["#2b8fc2", "#2b8fc2", "#8b45b8", "#8b45b8"]}, "legend": null},
            "angle": {"field": "id", "type": "nominal", "scale": {"domain": ["b1", "b2", "b3", "b4"], "range": [239.8, 282, 277.2, 277.6]}, "legend": null}
          }
        },
        {
          "data": {"name": "arrows"},
          "transform": [{"filter": "datum.panel === 'epoxy'"}],
          "mark": {"type": "point", "shape": "triangle", "filled": true, "size": 60, "opacity": 1},
          "encoding": {
            "x": {"field": "w2", "type": "quantitative", "title": "Wavenumber (cm⁻¹)"},
            "y": {"field": "v2", "type": "quantitative", "title": "Amplitude (V)"},
            "fill": {"field": "id", "type": "nominal", "scale": {"domain": ["b1", "b2", "b3", "b4"], "range": ["#2b8fc2", "#2b8fc2", "#8b45b8", "#8b45b8"]}, "legend": null},
            "angle": {"field": "id", "type": "nominal", "scale": {"domain": ["b1", "b2", "b3", "b4"], "range": [59.8, 102, 97.2, 97.6]}, "legend": null}
          }
        },
        {
          "data": {"name": "labels"},
          "transform": [{"filter": "datum.panel === 'epoxy' && datum.kind === 'sample'"}],
          "mark": {"type": "text", "font": "Lato", "fontWeight": "bold", "fontSize": 25, "align": "left", "baseline": "alphabetic"},
          "encoding": {
            "x": {"field": "w", "type": "quantitative", "title": "Wavenumber (cm⁻¹)"},
            "y": {"field": "v", "type": "quantitative", "title": "Amplitude (V)"},
            "text": {"field": "text"},
            "color": {"field": "sample", "type": "nominal", "legend": null}
          }
        },
        {
          "data": {"name": "labels"},
          "transform": [{"filter": "datum.panel === 'epoxy' && datum.kind === 'title'"}],
          "mark": {"type": "text", "font": "Lato", "fontSize": 21, "align": "center", "baseline": "alphabetic", "color": "#3a3a3a"},
          "encoding": {
            "x": {"field": "w", "type": "quantitative", "title": "Wavenumber (cm⁻¹)"},
            "y": {"field": "v", "type": "quantitative", "title": "Amplitude (V)"},
            "text": {"field": "text"}
          }
        }
      ]
    }
  ]
}
